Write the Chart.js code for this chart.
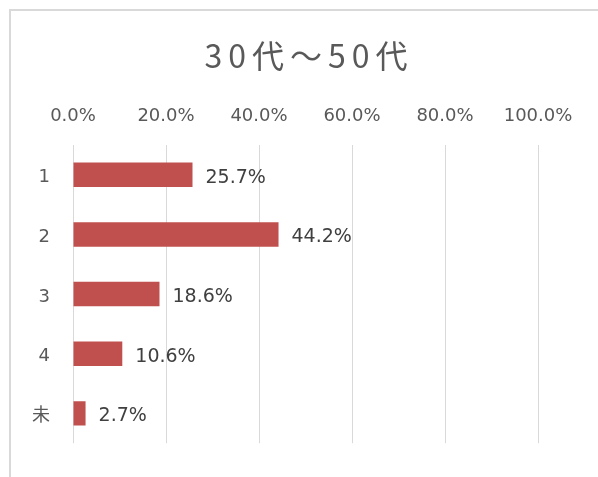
<!DOCTYPE html>
<html>
<head>
<meta charset="utf-8">
<style>
  html, body { margin: 0; padding: 0; background: #ffffff; }
  #wrap { width: 598px; height: 477px; position: relative; }
</style>
<script src="https://cdn.jsdelivr.net/npm/chart.js@4/dist/chart.umd.min.js"></script>
</head>
<body>
<div id="wrap"><canvas id="chart" width="598" height="477"></canvas></div>
<script>
// Survey answer shares for respondents aged 30–50
const chartTitle = '30代～50代';
const categories = ['1', '2', '3', '4', '未'];
const shares = [25.7, 44.2, 18.6, 10.6, 2.7];
const axisTicks = [0, 20, 40, 60, 80, 100];

const FONT = "'DejaVu Sans', 'Noto Sans CJK JP', sans-serif";
const pct = v => Number(v).toFixed(1) + '%';

// Light frame along the top and left edges of the chart
const framePlugin = {
  id: 'frame',
  beforeDraw(chart) {
    const ctx = chart.ctx;
    ctx.save();
    ctx.fillStyle = '#ffffff';
    ctx.fillRect(0, 0, chart.width, chart.height);
    ctx.fillStyle = '#d9d9d9';
    ctx.fillRect(9, 9, chart.width - 9, 2);
    ctx.fillRect(9, 9, 2, chart.height - 9);
    ctx.restore();
  }
};

// Title drawn with a little tracking between glyphs
const titlePlugin = {
  id: 'spacedTitle',
  afterDraw(chart) {
    const ctx = chart.ctx;
    ctx.save();
    ctx.font = "32px 'Noto Sans CJK JP', sans-serif";
    ctx.fillStyle = '#595959';
    ctx.textAlign = 'center';
    ctx.textBaseline = 'middle';
    if ('letterSpacing' in ctx) ctx.letterSpacing = '6px';
    ctx.fillText(chartTitle, 309, 56);
    ctx.restore();
  }
};

// Value labels just past the end of each bar
const valueLabelPlugin = {
  id: 'valueLabels',
  afterDatasetsDraw(chart) {
    const ctx = chart.ctx;
    const meta = chart.getDatasetMeta(0);
    ctx.save();
    ctx.font = '19px ' + FONT;
    ctx.fillStyle = '#404040';
    ctx.textAlign = 'left';
    ctx.textBaseline = 'middle';
    meta.data.forEach((bar, i) => {
      ctx.fillText(pct(chart.data.datasets[0].data[i]), bar.x + 13, bar.y + 3);
    });
    ctx.restore();
  }
};

new Chart(document.getElementById('chart'), {
  type: 'bar',
  data: {
    labels: categories,
    datasets: [{
      data: shares,
      backgroundColor: '#C0504D',
      borderWidth: 0,
      categoryPercentage: 1.0,
      barPercentage: 0.41
    }]
  },
  options: {
    indexAxis: 'y',
    responsive: false,
    animation: false,
    events: [],
    layout: { padding: { left: 0, right: 60, top: 0, bottom: 25 } },
    plugins: {
      legend: { display: false },
      title: { display: false },
      tooltip: { enabled: false }
    },
    scales: {
      x: {
        position: 'top',
        min: 0,
        max: 100,
        afterBuildTicks(scale) {
          scale.ticks = axisTicks.map(v => ({ value: v }));
        },
        afterFit(scale) { scale.height = 145; },
        ticks: {
          padding: 18,
          color: '#595959',
          font: { family: FONT, size: 18 },
          callback: v => pct(v)
        },
        grid: { color: '#d9d9d9', lineWidth: 1, drawTicks: false },
        border: { display: false }
      },
      y: {
        afterFit(scale) { scale.width = 73; },
        ticks: {
          padding: 23,
          labelOffset: 3,
          color: '#595959',
          font: { family: FONT, size: 18 }
        },
        grid: { display: false, drawTicks: false },
        border: { display: false }
      }
    }
  },
  plugins: [framePlugin, titlePlugin, valueLabelPlugin]
});
</script>
</body>
</html>
